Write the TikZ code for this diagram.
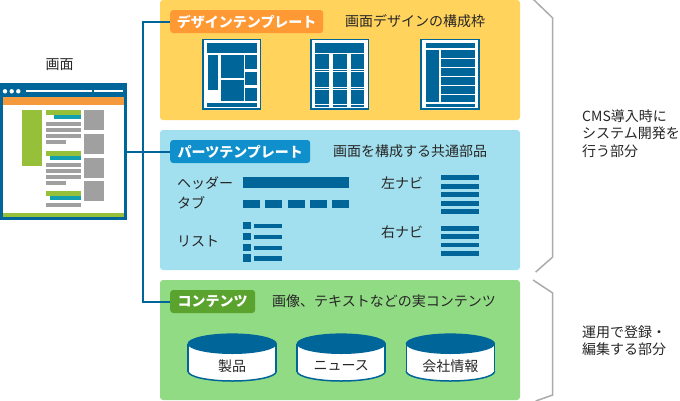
\documentclass[tikz,border=0pt]{standalone}
\usepackage{fontspec}
\setmainfont{Noto Sans CJK JP}
\definecolor{dk}{HTML}{006699}
\definecolor{panely}{HTML}{FFD35C}
\definecolor{panelb}{HTML}{A3E0EF}
\definecolor{panelg}{HTML}{92DB85}
\definecolor{labo}{HTML}{FF9933}
\definecolor{labb}{HTML}{0F90CC}
\definecolor{labg}{HTML}{5AA32E}
\definecolor{scro}{HTML}{F59A3C}
\definecolor{scrg}{HTML}{96C03A}
\definecolor{scrt}{HTML}{12A0AE}
\definecolor{scrh}{HTML}{A0A0A0}
\definecolor{brk}{HTML}{ABABAB}
\newcommand{\blk}[5][dk]{\fill[#1] (#2,#3) rectangle (#4,#5);}
\tikzset{
  txt/.style={inner sep=0pt,anchor=west,text=black!85,font=\fontsize{14}{17}\selectfont,align=left},
  panel/.style={rounded corners=3pt,inner sep=0pt,minimum width=360pt},
  tag/.style={rounded corners=3pt,inner sep=0pt,minimum height=23pt,text=white,anchor=west,font=\fontsize{14}{17}\selectfont\bfseries},
  icon/.style={draw=dk,line width=1.7pt,fill=white,inner sep=0pt,minimum width=57.8pt,minimum height=69.8pt},
  link/.style={draw=dk,line width=2pt},
  bracket/.style={draw=brk,line width=1.5pt},
}
\begin{document}
\begin{tikzpicture}[x=1pt,y=-1pt]
\useasboundingbox (0,0) rectangle (680,400);
% panels
\node[panel,fill=panely,minimum height=120pt] (pd) at (340,60) {};
\node[panel,fill=panelb,minimum height=140pt] (pp) at (340,200) {};
\node[panel,fill=panelg,minimum height=120pt] (pc) at (340,340) {};
% tags
\node[tag,fill=labo,minimum width=153pt] (dlabel) at (170,21.5) {デザインテンプレート};
\node[tag,fill=labb,minimum width=140pt] (plabel) at (170,151.5) {パーツテンプレート};
\node[tag,fill=labg,minimum width=85pt] (clabel) at (170,301.5) {コンテンツ};
% screen
\node[fill=dk,inner sep=0pt,minimum width=127pt,minimum height=137pt] (screen) at (63.5,151.5) {};
\blk[white]{3}{97}{124}{216.5}
\blk[scro]{3}{97}{124}{105}
\blk[scrg]{3}{213}{124}{216.5}
\foreach \x in {5,11.7,18.3} \fill[white] (\x,91.3) circle (2.2pt);
\blk[white]{26}{90.3}{92}{92}
\blk[white]{94}{90.3}{123}{92}
\blk[scrg]{22}{110}{42}{166}
\blk[scrg]{46}{110}{81}{115}
\blk[scrt]{54}{115}{81}{119}
\foreach \y in {122,128,134} {\blk[scrh]{46}{\y}{81}{\y+4}}
\blk[scrh]{46}{140}{66}{144}
\blk[scrg]{46}{151}{81}{156}
\blk[scrt]{50}{156}{81}{160}
\foreach \y in {163,169,175} {\blk[scrh]{46}{\y}{81}{\y+4}}
\blk[scrh]{46}{181}{66}{185}
\blk[scrg]{46}{191}{81}{196}
\blk[scrt]{50}{196}{81}{200}
\blk[scrh]{46}{203}{81}{207}
\foreach \y in {110,134,158,181} {\blk[scrh]{84}{\y}{104}{\y+20}}
\node[txt,anchor=center] (title) at (59.5,65) {画面};
% connectors
\coordinate (bend) at (143,301.5);
\draw[link] (dlabel.west) -- (dlabel.west -| bend) -- (bend) -- (clabel.west);
\draw[link] (screen.east) -- (plabel.west);
% panel captions
\node[txt] (dcap) at (345,21) {画面デザインの構成枠};
\node[txt] (pcap) at (333,151) {画面を構成する共通部品};
\node[txt] (ccap) at (272,301) {画像、テキストなどの実コンテンツ};
% icon 1
\node[icon] (i1) at (231.7,74.4) {};
\blk{207}{43.3}{257.3}{52.7}
\blk{207.7}{55.3}{218}{90.3}
\blk{220.7}{55.3}{243.7}{78.3}
\blk{220.7}{80}{243.7}{101}
\blk{245.3}{55.3}{257.3}{69.3}
\blk{245.3}{71.7}{257.3}{85.3}
\blk{245.3}{87.7}{257.3}{101}
\blk{207}{103.3}{257.3}{107.3}
% icon 2
\node[icon] (i2) at (339.7,74.4) {};
\blk{315}{43.3}{364.3}{52.7}
\foreach \a/\b in {315/329,333/346.5,351/364.3} {
  \blk{\a}{54.3}{\b}{68.7}
  \blk{\a}{69.7}{\b}{71}
  \blk{\a}{72}{\b}{86.7}
  \blk{\a}{87.7}{\b}{88.9}
  \blk{\a}{90.3}{\b}{103.7}
  \blk{\a}{104.7}{\b}{106.7}
}
% icon 3
\node[icon] (i3) at (450.2,74.4) {};
\blk{425.7}{43.3}{475.3}{48}
\blk{425.7}{50}{439.3}{102}
\foreach \y/\z in {50/57.7,59.3/66.7,68.3/75.7,77.3/84.7,86.3/93.7,95.3/102} {\blk{441.3}{\y}{475.3}{\z}}
\blk{425.7}{104}{475.3}{106.7}
% parts
\node[txt] (hdr) at (177,183) {ヘッダー};
\node[txt] (tab) at (177,203) {タブ};
\node[txt] (lst) at (177,241) {リスト};
\node[txt] (lnav) at (381,183) {左ナビ};
\node[txt] (rnav) at (381,232) {右ナビ};
\blk{243}{177}{349}{188}
\foreach \x in {243,265.2,287.5,309.7,332} {\blk{\x}{199.5}{\x+17}{207.5}}
\foreach \y in {221.7,232.7,243.7,254.4} {\blk{243}{\y}{250.5}{\y+7.4}\blk{254}{\y+2}{282}{\y+6.4}}
\foreach \y in {175.3,183.9,192.3,200.8,209.3} {\blk{441}{\y}{479}{\y+4.7}}
\foreach \y in {226,234.3,242.7,251.3} {\blk{441}{\y}{479}{\y+4.7}}
% cylinders
\foreach \cx/\nm/\lb in {232.2/c1/製品,341.2/c2/ニュース,450.4/c3/会社情報} {
  \draw[dk,fill=white,line width=1.5pt] (\cx,371.5) ellipse [x radius=44pt,y radius=9.5pt];
  \fill[white] (\cx-44,343.7) rectangle (\cx+44,371.5);
  \draw[dk,line width=1.5pt] (\cx-44,343.7) -- (\cx-44,371.5) (\cx+44,343.7) -- (\cx+44,371.5);
  \fill[dk] (\cx,343.7) ellipse [x radius=44.7pt,y radius=10.3pt];
  \node[txt,anchor=center] (\nm) at (\cx,366) {\lb};
}
% brackets
\coordinate (b1a) at (533,-1);
\coordinate (b1b) at (552.7,18);
\coordinate (b1c) at (552.7,257);
\coordinate (b1d) at (535.7,272);
\coordinate (b2a) at (533,280);
\coordinate (b2b) at (552.7,293);
\coordinate (b2c) at (552.7,395);
\coordinate (b2d) at (535.7,401);
\draw[bracket] (b1a) -- (b1b) -- (b1c) -- (b1d);
\draw[bracket] (b2a) -- (b2b) -- (b2c) -- (b2d);
% side notes
\node[txt,font=\fontsize{14}{17.5}\selectfont] (n1) at (582,133.5) {CMS導入時に\\システム開発を\\行う部分};
\node[txt,font=\fontsize{14}{17.5}\selectfont] (n2) at (582,340.5) {運用で登録・\\編集する部分};
\end{tikzpicture}
\end{document}
